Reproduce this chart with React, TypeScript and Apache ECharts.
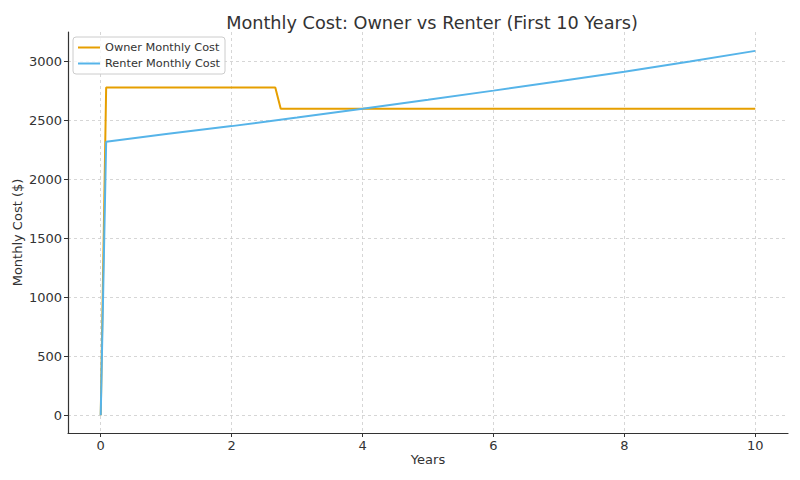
import React, { useEffect, useRef } from 'react';
import * as echarts from 'echarts';

// [years, monthly cost $]
const ownerCost: [number, number][] = [
  [0, 0],
  [0.083, 2780],
  [2.667, 2780],
  [2.75, 2600],
  [10, 2600]
];

const renterCost: [number, number][] = [
  [0, 0],
  [0.083, 2320],
  [1, 2385],
  [2, 2452],
  [3, 2525],
  [4, 2600],
  [5, 2676],
  [6, 2753],
  [7, 2832],
  [8, 2913],
  [9, 2999],
  [10, 3090]
];

const xTicks = [0, 2, 4, 6, 8, 10];
const yTicks = [0, 500, 1000, 1500, 2000, 2500, 3000];

const FONT = 'DejaVu Sans';
const TEXT = '#333333';

export default function App() {
  const chartRef = useRef<HTMLDivElement>(null);

  useEffect(() => {
    if (!chartRef.current) return;

    const chart = echarts.init(chartRef.current, undefined, { renderer: 'svg' });

    const gridLine = {
      show: true,
      lineStyle: { color: '#cccccc', type: [3, 3], width: 0.8 }
    };

    const option: any = {
      animation: false,
      backgroundColor: '#ffffff',
      textStyle: { fontFamily: FONT, color: TEXT },
      title: {
        text: 'Monthly Cost: Owner vs Renter (First 10 Years)',
        left: 427,
        top: 9,
        textAlign: 'center',
        textStyle: { fontFamily: FONT, fontSize: 17.7, fontWeight: 'normal', color: TEXT }
      },
      legend: {
        left: 73,
        top: 37,
        orient: 'vertical',
        itemGap: 5,
        itemWidth: 22,
        itemHeight: 2,
        padding: [5, 5, 5, 5],
        borderColor: '#cccccc',
        borderWidth: 1,
        borderRadius: 3,
        backgroundColor: 'rgba(255,255,255,0.8)',
        icon: 'rect',
        textStyle: { fontFamily: FONT, fontSize: 11.3, color: TEXT },
        data: ['Owner Monthly Cost', 'Renter Monthly Cost']
      },
      grid: { left: 68, right: 12, top: 32, bottom: 47, containLabel: false, outerBoundsMode: 'none' },
      xAxis: {
        type: 'value',
        min: -0.5,
        max: 10.5,
        name: 'Years',
        nameLocation: 'middle',
        nameGap: 20,
        nameMoveOverlap: false,
        nameTextStyle: { fontFamily: FONT, fontSize: 13, color: TEXT },
        axisLine: { show: true, onZero: false, lineStyle: { color: '#333333', width: 1.2 } },
        axisTick: { show: true, length: 4, customValues: xTicks, lineStyle: { color: '#333333' } },
        axisLabel: { customValues: xTicks, fontSize: 13, color: TEXT, margin: 6, fontFamily: FONT },
        splitLine: gridLine
      },
      yAxis: {
        type: 'value',
        min: -150,
        max: 3250,
        name: 'Monthly Cost ($)',
        nameLocation: 'middle',
        nameGap: 44,
        nameMoveOverlap: false,
        nameTextStyle: { fontFamily: FONT, fontSize: 13, color: TEXT },
        axisLine: { show: true, onZero: false, lineStyle: { color: '#333333', width: 1.2 } },
        axisTick: { show: true, length: 4, customValues: yTicks, lineStyle: { color: '#333333' } },
        axisLabel: {
          customValues: yTicks,
          fontSize: 13,
          color: TEXT,
          margin: 6,
          fontFamily: FONT,
          formatter: (v: number) => String(v)
        },
        splitLine: gridLine
      },
      series: [
        {
          name: 'Owner Monthly Cost',
          type: 'line',
          data: ownerCost,
          showSymbol: false,
          symbol: 'none',
          lineStyle: { color: '#E69F00', width: 2 },
          itemStyle: { color: '#E69F00' },
          z: 2
        },
        {
          name: 'Renter Monthly Cost',
          type: 'line',
          data: renterCost,
          showSymbol: false,
          symbol: 'none',
          lineStyle: { color: '#56B4E9', width: 2 },
          itemStyle: { color: '#56B4E9' },
          z: 3
        }
      ]
    };

    chart.setOption(option);

    return () => {
      chart.dispose();
    };
  }, []);

  return <div ref={chartRef} style={{ width: 800, height: 480, margin: -8 }} />;
}
